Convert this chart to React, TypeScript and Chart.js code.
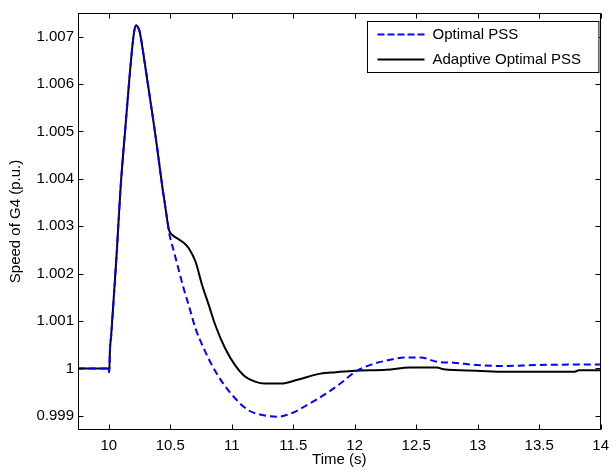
import React, { useEffect, useRef } from "react";
import { Chart, registerables } from "chart.js";

Chart.register(...registerables);

const seriesLabels = ["Optimal PSS", "Adaptive Optimal PSS"];
const xTickValues = [10, 10.5, 11, 11.5, 12, 12.5, 13, 13.5, 14];
const yTickValues = [0.999, 1.0, 1.001, 1.002, 1.003, 1.004, 1.005, 1.006, 1.007];

// shared transient (both controllers identical until ~10.48 s)
const sharedTime = [
  9.75, 10.0, 10.004, 10.01, 10.02, 10.064, 10.096, 10.139, 10.185, 10.205,
  10.222, 10.235, 10.252, 10.292, 10.332, 10.372, 10.398, 10.438, 10.455, 10.478,
];
const sharedSpeed = [
  1.0, 1.0, 0.99992, 1.0004, 1.0007, 1.0024, 1.0038, 1.0052, 1.00661, 1.00708,
  1.00724, 1.00721, 1.0071, 1.00646, 1.00576, 1.00506, 1.00457, 1.00379, 1.0035, 1.00309,
];

const optimalTailTime = [
  10.492, 10.532, 10.572, 10.612, 10.652, 10.706, 10.773, 10.839, 10.92, 11.027, 11.134, 11.241,
  11.375, 11.482, 11.616, 11.75, 11.883, 12.0, 12.135, 12.268, 12.402, 12.536, 12.669, 12.803,
  12.99, 13.205, 13.472, 13.74, 14.0,
];
const optimalTailSpeed = [
  1.00285, 1.00245, 1.00205, 1.00166, 1.00132, 1.00084, 1.00042, 1.00007, 0.99972, 0.99937,
  0.99912, 0.99902, 0.99898, 0.99905, 0.99923, 0.99944, 0.99968, 0.99992, 1.00008, 1.00017,
  1.00023, 1.00023, 1.00014, 1.00012, 1.00007, 1.00005, 1.00007, 1.00008, 1.00008,
];

const adaptiveTailTime = [
  10.49, 10.52, 10.56, 10.61, 10.652, 10.706, 10.759, 10.813, 10.867, 10.947, 11.027, 11.108,
  11.19, 11.268, 11.401, 11.535, 11.722, 11.85, 12.0, 12.258, 12.45, 12.667, 12.723, 12.988,
  13.229, 13.79, 13.822, 14.0,
];
const adaptiveTailSpeed = [
  1.00292, 1.00281, 1.00274, 1.00265, 1.00253, 1.00225, 1.00176, 1.00134, 1.00091, 1.00042,
  1.00007, 0.99983, 0.99972, 0.99968, 0.99968, 0.99976, 0.99989, 0.99992, 0.99995, 0.99997,
  1.00002, 1.00002, 0.99998, 0.99995, 0.99993, 0.99993, 0.99996, 0.99996,
];

const optimalTime = [...sharedTime, ...optimalTailTime];
const optimalSpeed = [...sharedSpeed, ...optimalTailSpeed];
const adaptiveTime = [...sharedTime, ...adaptiveTailTime];
const adaptiveSpeed = [...sharedSpeed, ...adaptiveTailSpeed];

const FONT = '"Liberation Sans", Arial, Helvetica, sans-serif';

const framePlugin = {
  id: "matlabFrame",
  afterDatasetsDraw(chart: any) {
    const { ctx, chartArea: a, scales } = chart;
    const L = Math.round(a.left) + 0.5;
    const R = Math.round(a.right) - 0.5;
    const T = Math.round(a.top) + 0.5;
    const B = Math.round(a.bottom) - 0.5;
    ctx.save();
    ctx.strokeStyle = "#000";
    ctx.lineWidth = 1;
    ctx.setLineDash([]);
    ctx.strokeRect(L, T, R - L, B - T);
    const tl = 5;
    ctx.beginPath();
    for (const t of scales.x.ticks) {
      const px = Math.round(scales.x.getPixelForValue(t.value)) + 0.5;
      ctx.moveTo(px, B);
      ctx.lineTo(px, B - tl);
      ctx.moveTo(px, T);
      ctx.lineTo(px, T + tl);
    }
    for (const t of scales.y.ticks) {
      const py = Math.round(scales.y.getPixelForValue(t.value)) + 0.5;
      ctx.moveTo(L, py);
      ctx.lineTo(L + tl, py);
      ctx.moveTo(R, py);
      ctx.lineTo(R - tl, py);
    }
    ctx.stroke();

    // legend
    const fontSize = 15;
    ctx.font = `${fontSize}px ${FONT}`;
    const ds = chart.data.datasets;
    let maxW = 0;
    for (const d of ds) maxW = Math.max(maxW, ctx.measureText(d.label).width);
    const boxW = 65 + maxW + 18;
    const boxH = 51;
    const bx = Math.round(a.right - 2 - boxW) + 0.5;
    const by = Math.round(a.top + 8) + 0.5;
    ctx.fillStyle = "#fff";
    ctx.fillRect(bx, by, boxW, boxH);
    ctx.strokeStyle = "#000";
    ctx.lineWidth = 1;
    ctx.strokeRect(bx, by, boxW, boxH);
    ds.forEach((d: any, i: number) => {
      const ry = by + 13 + i * 25;
      ctx.beginPath();
      ctx.strokeStyle = d.borderColor;
      ctx.lineWidth = d.borderWidth;
      ctx.setLineDash(d.borderDash && d.borderDash.length ? [7, 3] : []);
      ctx.moveTo(bx + 10, ry);
      ctx.lineTo(bx + 57, ry);
      ctx.stroke();
      ctx.setLineDash([]);
      ctx.fillStyle = "#000";
      ctx.textBaseline = "middle";
      ctx.textAlign = "left";
      ctx.fillText(d.label, bx + 65, ry);
    });
    ctx.restore();
  },
};

export default function App() {
  const ref = useRef<HTMLCanvasElement | null>(null);

  useEffect(() => {
    if (!ref.current) return;
    const chart = new Chart(ref.current, {
      type: "line",
      data: {
        datasets: [
          {
            label: seriesLabels[0],
            data: optimalTime.map((t, i) => ({ x: t, y: optimalSpeed[i] })),
            borderColor: "#0000ff",
            borderWidth: 2,
            borderDash: [7, 4],
            pointRadius: 0,
            cubicInterpolationMode: "monotone",
            fill: false,
          },
          {
            label: seriesLabels[1],
            data: adaptiveTime.map((t, i) => ({ x: t, y: adaptiveSpeed[i] })),
            borderColor: "#000000",
            borderWidth: 2,
            pointRadius: 0,
            cubicInterpolationMode: "monotone",
            fill: false,
          },
        ],
      },
      options: {
        responsive: false,
        animation: false,
        devicePixelRatio: 1,
        layout: { padding: { top: 12, right: 9, left: 0, bottom: 0 } },
        plugins: { legend: { display: false }, tooltip: { enabled: false } },
        scales: {
          x: {
            type: "linear",
            min: 9.75,
            max: 14,
            grid: { display: false, drawTicks: false },
            border: { display: false },
            ticks: {
              color: "#000",
              font: { family: FONT, size: 15 },
              padding: 7,
              maxRotation: 0,
              autoSkip: false,
              callback: (v: any) => String(v),
            },
            title: {
              display: true,
              text: "Time (s)",
              color: "#000",
              font: { family: FONT, size: 15 },
              padding: { top: 0, bottom: 3 },
            },
            afterBuildTicks: (s: any) => {
              s.ticks = xTickValues.map((v) => ({ value: v }));
            },
            afterFit: (s: any) => {
              s.height = 42;
            },
          },
          y: {
            type: "linear",
            min: 0.9987,
            max: 1.0075,
            grid: { display: false, drawTicks: false },
            border: { display: false },
            ticks: {
              color: "#000",
              font: { family: FONT, size: 15 },
              padding: 4,
              autoSkip: false,
              callback: (v: any) => String(parseFloat(Number(v).toFixed(3))),
            },
            title: {
              display: true,
              text: "Speed of G4 (p.u.)",
              color: "#000",
              font: { family: FONT, size: 15 },
              padding: { top: 7, bottom: 0 },
            },
            afterBuildTicks: (s: any) => {
              s.ticks = yTickValues.map((v) => ({ value: v }));
            },
            afterFit: (s: any) => {
              s.width = 78;
            },
          },
        },
      },
      plugins: [framePlugin],
    });
    return () => chart.destroy();
  }, []);

  return (
    <div style={{ position: "fixed", left: 0, top: 0, width: 616, height: 472, background: "#fff" }}>
      <canvas ref={ref} width={616} height={472} style={{ width: 616, height: 472 }} />
    </div>
  );
}
